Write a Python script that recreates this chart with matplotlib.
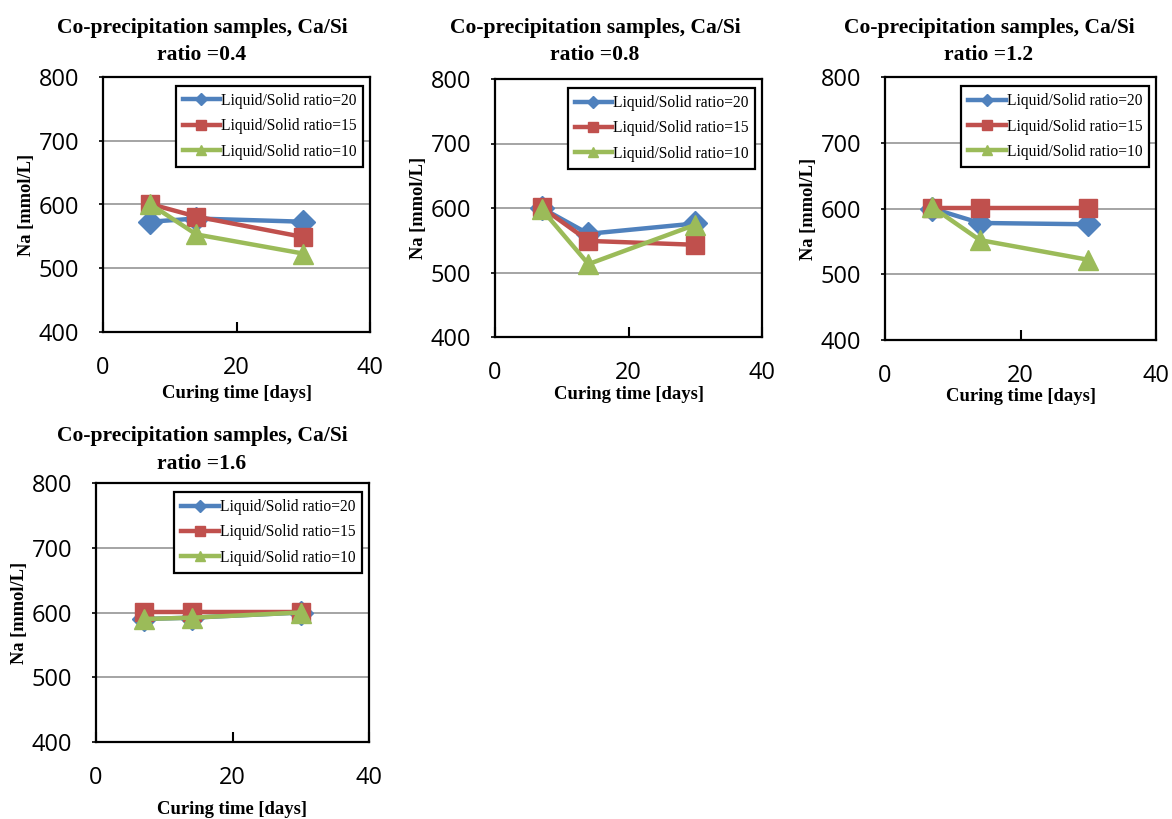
import matplotlib
matplotlib.use('Agg')
import matplotlib.pyplot as plt

# curing time in days
days = [7, 14, 30]

ca_si_ratios = ['0.4', '0.8', '1.2', '1.6']
series_names = ['Liquid/Solid ratio=20', 'Liquid/Solid ratio=15', 'Liquid/Solid ratio=10']

# Na concentration [mmol/L], one list per panel
ls20 = [[573, 578, 573], [600, 560, 576], [600, 578, 576], [590, 592, 600]]
ls15 = [[601, 581, 549], [601, 549, 543], [601, 601, 601], [601, 601, 601]]
ls10 = [[601, 553, 523], [598, 513, 574], [602, 552, 522], [590, 592, 600]]

colors = ['#4F81BD', '#C0504D', '#9BBB59']
markers = ['D', 's', '^']
msizes = [12, 13, 14]

W, H = 1172, 819
# axes boxes in pixels: left, top, right, bottom
boxes = [(103, 77, 370, 332), (495, 79, 762, 337), (885, 77, 1156, 340), (96, 483, 369, 742)]
title_x = [202, 595, 989, 202]
title_gap = [12, 14, 12, 9]
xlab_pad = [4, 1, 0, 8]


def draw_panel(fig, i):
    l, t, r, b = boxes[i]
    ax = fig.add_axes([l / W, 1 - b / H, (r - l) / W, (b - t) / H])
    for k, vals in enumerate([ls20[i], ls15[i], ls10[i]]):
        ax.plot(days, vals, color=colors[k], marker=markers[k], markersize=msizes[k],
                lw=3.2, label=series_names[k], zorder=3 + k)
    ax.set_xlim(0, 40)
    ax.set_ylim(400, 800)
    ax.set_xticks([0, 20, 40])
    ax.set_yticks([400, 500, 600, 700, 800])
    for y in [500, 600, 700]:
        ax.axhline(y, color='#8c8c8c', lw=1.1, zorder=1)
    for s in ax.spines.values():
        s.set_linewidth(1.6)
    ax.tick_params(axis='x', direction='in', length=7, width=1.5, pad=17,
                   labelsize=17, labelfontfamily='Open Sans')
    ax.tick_params(axis='y', direction='out', length=3, width=1.2, pad=14,
                   labelsize=17, labelfontfamily='Open Sans')
    ax.set_xlabel('Curing time [days]', family='Liberation Serif', weight='bold',
                  fontsize=13.4, labelpad=xlab_pad[i])
    ax.set_ylabel('Na [mmol/L]', family='Liberation Serif', weight='bold',
                  fontsize=13.3, labelpad=3)
    leg = ax.legend(loc='upper right', bbox_to_anchor=(0.975, 0.965), fancybox=False,
                    framealpha=1, edgecolor='black', borderpad=0.45, labelspacing=0.6,
                    handlelength=2.4, handletextpad=0.05, borderaxespad=0,
                    prop={'family': 'Liberation Serif', 'size': 11.2}, markerscale=0.55)
    leg.get_frame().set_linewidth(1.6)
    leg.set_zorder(10)
    tx = (title_x[i] - l) / (r - l)
    ax.text(tx, 1.0 + title_gap[i] / (b - t), 'Co-precipitation samples, Ca/Si\nratio =' + ca_si_ratios[i],
            transform=ax.transAxes, ha='center', va='bottom', family='Liberation Serif',
            weight='bold', fontsize=15.5, linespacing=1.5)
    return ax


fig = plt.figure(figsize=(W / 100, H / 100), dpi=100)
for i in range(len(ca_si_ratios)):
    draw_panel(fig, i)

fig.savefig('out.png', dpi=100)
